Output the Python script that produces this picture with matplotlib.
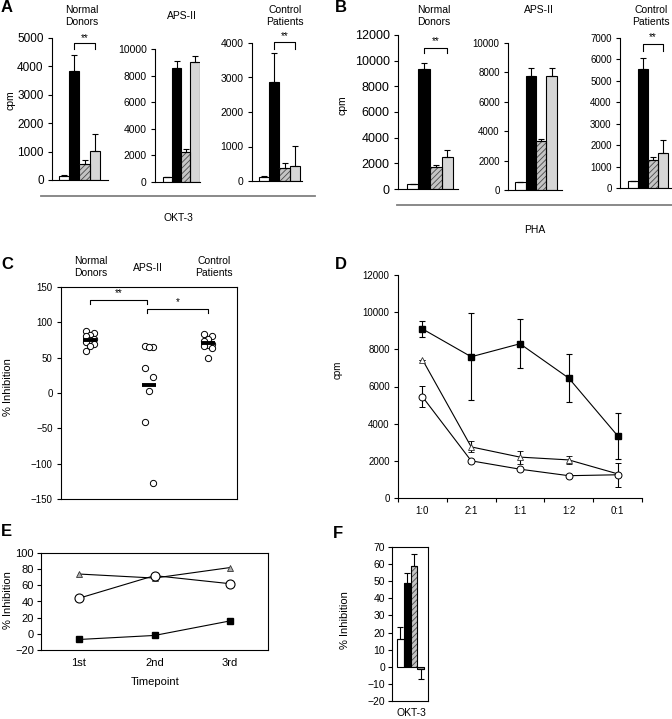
import numpy as np
import matplotlib
matplotlib.use("Agg")
import matplotlib.pyplot as plt
from matplotlib.lines import Line2D

plt.rcParams['font.family'] = ['Liberation Sans', 'DejaVu Sans']
plt.rcParams['hatch.linewidth'] = 0.6

# ---- data ----
groups = ["Normal\nDonors", "APS-II", "Control\nPatients"]

# A: OKT-3 stimulated cpm, 4 conditions per group
okt3_mean = [[130, 3850, 565, 1030], [350, 8570, 2290, 9000], [115, 2880, 385, 425]]
okt3_err = [[40, 550, 140, 580], [0, 530, 170, 500], [20, 830, 140, 590]]
# B: PHA stimulated cpm
pha_mean = [[380, 9330, 1740, 2520], [560, 7730, 3340, 7730], [330, 5550, 1320, 1630]]
pha_err = [[0, 510, 100, 520], [0, 570, 110, 570], [0, 520, 150, 590]]

# C: % inhibition per subject
inh_nd = [88, 85, 82, 80, 77, 75, 72, 70, 67, 60]
inh_aps = [67, 65, 65, 36, 23, 3, -41, -128]
inh_cp = [83, 80, 77, 73, 70, 68, 66, 64, 50]

# D: titration
ratios = ["1:0", "2:1", "1:1", "1:2", "0:1"]
d_sq = [9100, 7600, 8300, 6450, 3350]
d_sq_err = [430, 2350, 1330, 1280, 1250]
d_tri = [7450, 2750, 2200, 2050, 1300]
d_tri_err = [0, 300, 350, 230, 0]
d_circ = [5450, 2000, 1550, 1200, 1250]
d_circ_err = [580, 80, 60, 60, 650]

# E: timepoints
timepoints = ["1st", "2nd", "3rd"]
e_tri = [74, 69, 82]
e_circ = [44, 72, 62]
e_sq = [-7, -2, 16]

# F
f_vals = [16.5, 49, 59, -1.5]
f_err = [6.5, 6, 7, 5.5]

W, H = 672, 719
fig = plt.figure(figsize=(W / 100, H / 100), dpi=100)


def box(l, t, r, b):
    return fig.add_axes([l / W, 1 - b / H, (r - l) / W, (b - t) / H])


def ftext(x, y, s, **kw):
    fig.text(x / W, 1 - y / H, s, **kw)


def hline(x0, x1, y, **kw):
    fig.add_artist(Line2D([x0 / W, x1 / W], [1 - y / H, 1 - y / H],
                          transform=fig.transFigure, **kw))


def bars(ax, vals, errs, last='#d6d6d6'):
    x = np.arange(len(vals))
    cols = ['white', 'black', None, last]
    for i, v in enumerate(vals):
        if i == 2:
            ax.bar(i, v, 1.0, color='#c4c4c4', edgecolor='#4a4a4a', hatch='//////', lw=0, zorder=2)
            ax.bar(i, v, 1.0, fill=False, edgecolor='black', lw=0.8, zorder=3)
        else:
            ax.bar(i, v, 1.0, color=cols[i], edgecolor='black', lw=0.8, zorder=2)
    v = np.array(vals, float)
    e = np.array(errs, float)
    up = np.where(v >= 0, e, 0)
    lo = np.where(v < 0, e, 0)
    ax.errorbar(x, v, yerr=[lo, up], fmt='none', ecolor='black', elinewidth=0.8,
                capsize=2, capthick=0.8, zorder=4)


def bar_axes(ax, top, step, xlim, fs=8.5):
    ax.set_ylim(0, top)
    ax.set_xlim(*xlim)
    ax.set_yticks(np.arange(0, top + 1, step))
    ax.set_xticks([])
    for s in ['top', 'right']:
        ax.spines[s].set_visible(False)
    for s in ['left', 'bottom']:
        ax.spines[s].set_linewidth(0.8)
    ax.tick_params(axis='y', direction='out', length=3, width=0.8, labelsize=fs, pad=3)
    ax.patch.set_alpha(0)


def bracket(ax, x0, x1, y, drop, star, sy):
    ax.plot([x0, x0, x1, x1], [y - drop, y, y, y - drop], color='black', lw=0.8, clip_on=False)
    ax.text((x0 + x1) / 2, sy, star, ha='center', va='center', fontsize=7, clip_on=False)


# ---- panel A ----
a_boxes = [(52, 38, 108, 180), (155, 49, 200, 182), (252, 43, 302, 181)]
a_top = [(5000, 1000), (10000, 2000), (4000, 1000)]
a_xlim = [(-1.18, 4.28), (-1.36, 3.55), (-1.18, 3.7)]
for k in range(3):
    ax = box(*a_boxes[k])
    bars(ax, okt3_mean[k], okt3_err[k])
    bar_axes(ax, a_top[k][0], a_top[k][1], a_xlim[k], fs=8.5 if k == 0 else 7.5)
bracket(fig.axes[0], 1, 3, 4830, 200, "**", 5000)
bracket(fig.axes[2], 1, 3, 4030, 190, "**", 4200)
tkw = dict(ha='center', va='center', fontsize=7.5, linespacing=1.25)
ftext(82, 16, groups[0], **tkw)
ftext(182, 16, groups[1], **tkw)
ftext(285, 16, groups[2], **tkw)
ftext(10, 100, "cpm", rotation=90, ha='center', va='center', fontsize=7.5)
hline(41, 315, 196, color='#808080', lw=1.3)
ftext(178, 218, "OKT-3", ha='center', va='center', fontsize=7.5)
ftext(1, 8, "A", fontsize=12, fontweight='bold', va='center')

# ---- panel B ----
b_boxes = [(398, 35, 458, 189), (508, 43, 562, 190), (620, 38, 676, 188)]
b_top = [(12000, 2000), (10000, 2000), (7000, 1000)]
b_xlim = [(-1.28, 3.93), (-1.17, 3.98), (-1.26, 4.3)]
nb = len(fig.axes)
for k in range(3):
    ax = box(*b_boxes[k])
    bars(ax, pha_mean[k], pha_err[k])
    bar_axes(ax, b_top[k][0], b_top[k][1], b_xlim[k], fs=9 if k == 0 else 7)
bracket(fig.axes[nb], 1, 3, 10960, 400, "**", 11500)
bracket(fig.axes[nb + 2], 1, 3, 6730, 350, "**", 7050)
ftext(434, 16, groups[0], **tkw)
ftext(539, 10, groups[1], **tkw)
ftext(651, 16, groups[2], **tkw)
ftext(343, 105, "cpm", rotation=90, ha='center', va='center', fontsize=7.5)
hline(397, 672, 205, color='#808080', lw=1.3)
ftext(535, 230, "PHA", ha='center', va='center', fontsize=7.5)
ftext(335, 8, "B", fontsize=12, fontweight='bold', va='center')

# ---- panel C ----
ax = box(61, 287, 237, 499)
for i, vals in enumerate([inh_nd, inh_aps, inh_cp]):
    n = len(vals)
    offs = np.array([-0.07, 0.07, 0.0])[np.arange(n) % 3]
    ax.plot(i + offs, vals, 'o', mfc='white', mec='black', ms=4.5, mew=0.7, zorder=2)
    m = np.mean(vals)
    ax.plot([i - 0.12, i + 0.12], [m, m], color='black', lw=2.8, zorder=3, solid_capstyle='butt')
ax.set_xlim(-0.5, 2.5)
ax.set_ylim(-150, 150)
ax.set_yticks(np.arange(-150, 151, 50))
ax.set_xticks([])
ax.tick_params(axis='y', direction='out', length=3, width=0.8, labelsize=7, pad=3)
for s in ax.spines.values():
    s.set_linewidth(0.8)
bracket(ax, 0, 0.97, 131, 5, "**", 141)
bracket(ax, 0.97, 2, 119, 6, "*", 129)
ckw = dict(ha='center', va='center', fontsize=7.5, linespacing=1.2)
ftext(91, 267, groups[0], **ckw)
ftext(148, 268, groups[1], **ckw)
ftext(214, 267, groups[2], **ckw)
ftext(8, 387, "% Inhibition", rotation=90, ha='center', va='center', fontsize=8)
ftext(1, 264, "C", fontsize=12, fontweight='bold', va='center')

# ---- panel D ----
ax = box(398, 275, 642, 498)
x = np.arange(len(ratios))
ekw = dict(elinewidth=0.8, capsize=2, capthick=0.8, lw=0.8, ecolor='black')
ax.errorbar(x, d_sq, yerr=d_sq_err, fmt='s-', color='black', ms=3.8, zorder=3, **ekw)
ax.errorbar(x, d_tri, yerr=d_tri_err, fmt='^-', color='black', mfc='white', mec='#333333',
            ms=3.8, mew=0.6, zorder=3, **ekw)
ax.errorbar(x, d_circ, yerr=d_circ_err, fmt='o-', color='black', mfc='white', mec='black',
            ms=5, mew=0.7, zorder=4, **ekw)
ax.set_xlim(-0.5, len(ratios) - 0.5)
ax.set_ylim(0, 12000)
ax.set_yticks(np.arange(0, 12001, 2000))
ax.set_xticks(np.arange(-0.5, len(ratios), 1))
ax.set_xticklabels([])
ax.set_xticks(x, ratios, minor=True)
ax.tick_params(axis='x', which='minor', length=0, labelsize=7, pad=6)
ax.tick_params(axis='x', which='major', direction='out', length=3, width=0.8)
ax.tick_params(axis='y', direction='out', length=3, width=0.8, labelsize=7, pad=3)
for s in ['top', 'right']:
    ax.spines[s].set_visible(False)
for s in ['left', 'bottom']:
    ax.spines[s].set_linewidth(0.8)
ftext(338, 370, "cpm", rotation=90, ha='center', va='center', fontsize=7)
ftext(335, 264, "D", fontsize=12, fontweight='bold', va='center')

# ---- panel E ----
ax = box(41, 553, 268, 650)
x = np.arange(len(timepoints))
ax.plot(x, e_tri, '^-', color='black', lw=0.8, mfc='#b0b0b0', mec='#333333', ms=5, mew=0.6)
ax.plot(x, e_circ, 'o-', color='black', lw=0.8, mfc='white', mec='black', ms=6.5, mew=0.8)
ax.plot(x, e_sq, 's-', color='black', lw=0.8, ms=5)
ax.set_xlim(-0.5, 2.5)
ax.set_ylim(-20, 100)
ax.set_yticks(np.arange(-20, 101, 20))
ax.set_xticks(x, timepoints)
ax.tick_params(axis='x', length=0, labelsize=8, pad=6)
ax.tick_params(axis='y', direction='out', length=3, width=0.8, labelsize=8, pad=2)
for s in ax.spines.values():
    s.set_linewidth(0.8)
ftext(155, 682, "Timepoint", ha='center', va='center', fontsize=8)
ftext(8, 600, "% Inhibition", rotation=90, ha='center', va='center', fontsize=8)
ftext(1, 531, "E", fontsize=12, fontweight='bold', va='center')

# ---- panel F ----
ax = box(392, 547, 428, 701)
bars(ax, f_vals, f_err, last='#999999')
ax.set_xlim(-1.24, 4.09)
ax.set_ylim(-20, 70)
ax.set_yticks(np.arange(-20, 71, 10))
ax.set_xticks([])
ax.tick_params(axis='y', direction='out', length=3, width=0.8, labelsize=7.5, pad=2)
for s in ax.spines.values():
    s.set_linewidth(0.8)
ftext(411, 713, "OKT-3", ha='center', va='center', fontsize=7.5)
ftext(345, 620, "% Inhibition", rotation=90, ha='center', va='center', fontsize=8)
ftext(333, 533, "F", fontsize=12, fontweight='bold', va='center')

fig.savefig("out.png", dpi=100)
